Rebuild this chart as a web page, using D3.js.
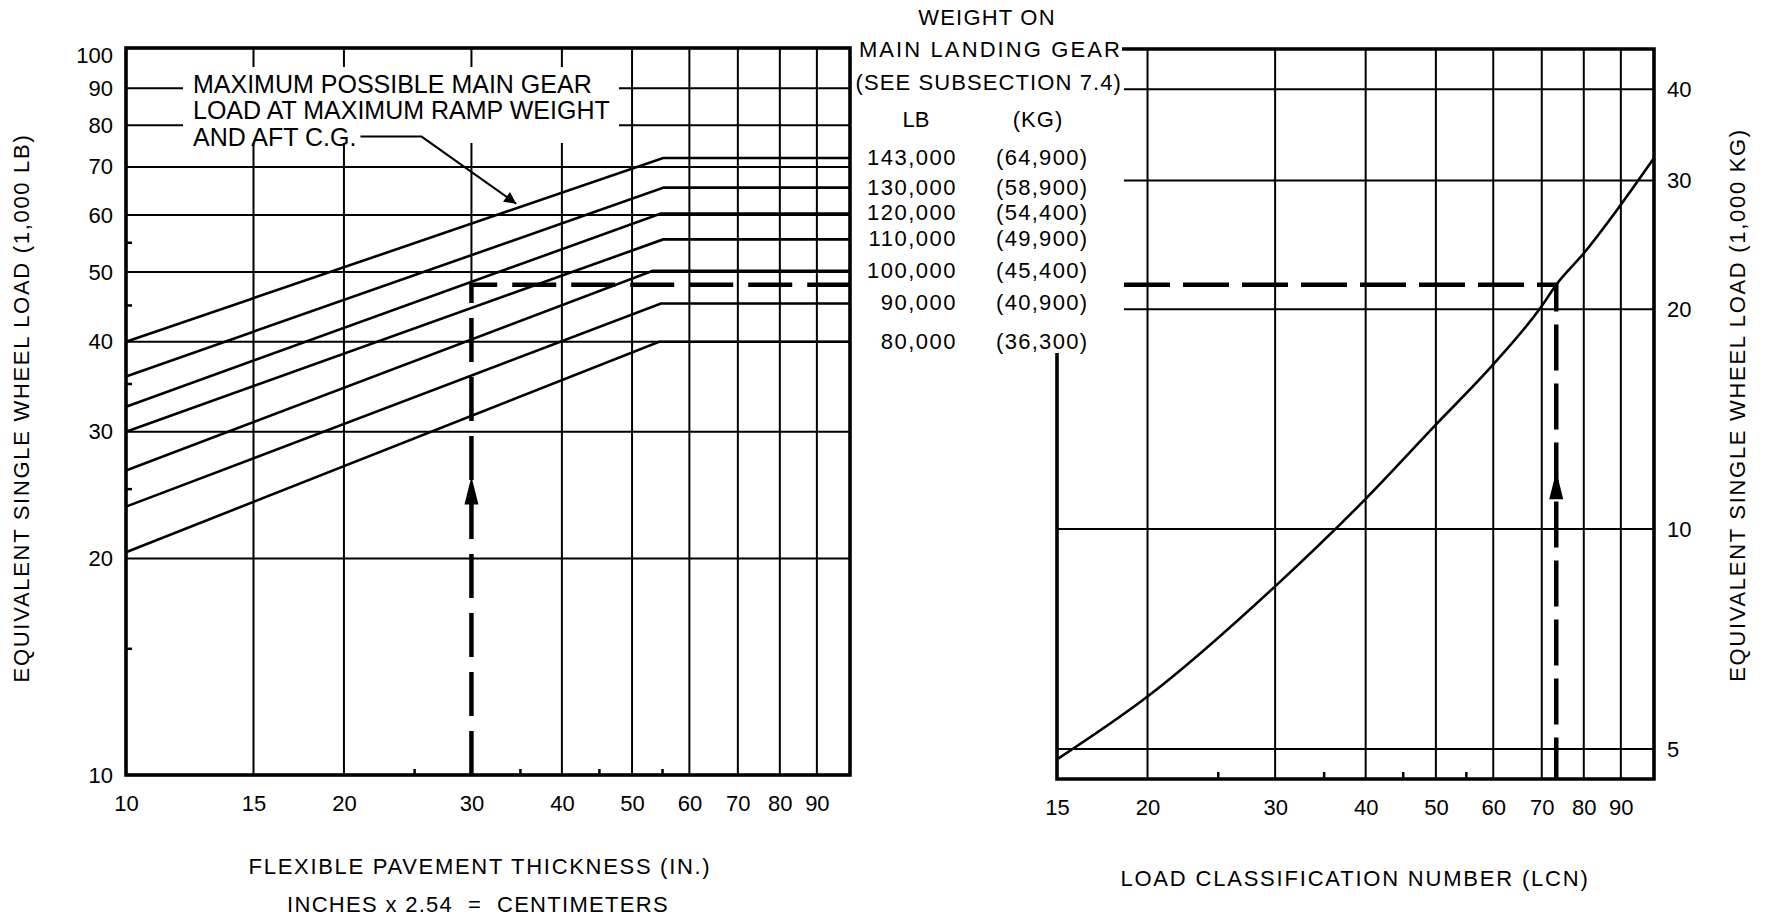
<!DOCTYPE html>
<html>
<head>
<meta charset="utf-8">
<script src="https://cdn.jsdelivr.net/npm/d3@7/dist/d3.min.js"></script>
<style>
  body { margin: 0; background: #fff; }
  svg text { fill: #000; }
</style>
</head>
<body>
<svg id="chart" width="1766" height="919"></svg>
<script>
// ---- data ----
var thicknessGrid = [15, 20, 30, 40, 50, 60, 70, 80, 90];
var thicknessLabels = [10, 15, 20, 30, 40, 50, 60, 70, 80, 90];
var thicknessMinor = [25, 35, 45, 55];
var loadLbGrid = [20, 30, 40, 50, 60, 70, 80, 90];
var loadLbLabels = [10, 20, 30, 40, 50, 60, 70, 80, 90, 100];
var loadLbMinor = [15, 25, 35, 45, 55];

var gearLb = ["143,000", "130,000", "120,000", "110,000", "100,000", "90,000", "80,000"];
var gearKg = ["(64,900)", "(58,900)", "(54,400)", "(49,900)", "(45,400)", "(40,900)", "(36,300)"];
var loadAt10 = [40, 35.8, 32.5, 30, 26.5, 23.6, 20.4];
var kneeThickness = [55.2, 55.3, 54.8, 55.2, 53.4, 54.8, 54.5];
var loadFlat = [72, 65.5, 60.3, 55.5, 50.2, 45.2, 40];

var lcnGrid = [20, 30, 40, 50, 60, 70, 80, 90];
var lcnLabels = [15, 20, 30, 40, 50, 60, 70, 80, 90];
var lcnMinor = [25, 35, 45, 55];
var loadKgGrid = [5, 10, 20, 30, 40];
var curveLcn = [15, 20, 30, 40, 50, 60, 70, 73.3, 80, 90, 100];
var curveLoadKg = [4.84, 5.9, 8.35, 11.0, 13.9, 16.8, 20.2, 21.6, 23.85, 27.8, 32.2];

// worked example (dashed path)
var exThickness = 30, exLoadLb = 48, exLoadKg = 21.6, exLcn = 73.3;
var exArrowLb = 26, exArrowKg = 12;
// note arrow: elbow and tip in chart units
var noteElbowThk = 25.6, noteTip = [34.6, 62.2];

var FONT = '"Liberation Sans", Arial, Helvetica, sans-serif';

var svg = d3.select("#chart");

var xL = d3.scaleLog().domain([10, 100]).range([126, 850]),
    yL = d3.scaleLog().domain([10, 102.4]).range([775, 48]);
var xR = d3.scaleLog().domain([15, 100]).range([1057, 1654]),
    yR = d3.scaleLog().domain([4.55, 45.4]).range([779, 49]);

var lTop = yL.domain()[1], rBot = yR.domain()[0], rTop = yR.domain()[1];
var legendRight = 1124, legendBottom = 353;

var defs = svg.append("defs");
defs.append("marker")
    .attr("id", "tip")
    .attr("viewBox", "0 0 10 10")
    .attr("refX", 10).attr("refY", 5)
    .attr("markerWidth", 7).attr("markerHeight", 6)
    .attr("markerUnits", "strokeWidth")
    .attr("orient", "auto")
    .append("path").attr("d", "M0,0 L10,5 L0,10 z").attr("fill", "#000");

// ================= LEFT CHART =================
var gl = svg.append("g");

gl.selectAll(".hgrid")
    .data(loadLbGrid)
    .enter()
    .append("line")
    .attr("x1", xL(10)).attr("x2", xL(100))
    .attr("y1", function (d) { return yL(d); })
    .attr("y2", function (d) { return yL(d); })
    .attr("stroke", "#000").attr("stroke-width", 2);

gl.selectAll(".vgrid")
    .data(thicknessGrid)
    .enter()
    .append("line")
    .attr("x1", function (d) { return xL(d); })
    .attr("x2", function (d) { return xL(d); })
    .attr("y1", function (d) { return d === exThickness ? yL(exLoadLb) : yL(10); })
    .attr("y2", yL(lTop))
    .attr("stroke", "#000").attr("stroke-width", 2);

// white box behind the note text
gl.append("rect")
    .attr("x", 183).attr("y", 67).attr("width", 436).attr("height", 76)
    .attr("fill", "#fff");

var note = ["MAXIMUM POSSIBLE MAIN GEAR", "LOAD AT MAXIMUM RAMP WEIGHT", "AND AFT C.G."];
var noteText = gl.selectAll(".note")
    .data(note)
    .enter()
    .append("text")
    .attr("x", 193)
    .attr("y", function (d, i) { return 84 + i * 26.3; })
    .attr("dy", "0.36em")
    .attr("font-family", FONT)
    .attr("font-size", 25)
    .text(function (d) { return d; });

var lastNote = noteText.filter(function (d, i) { return i === 2; });
var noteEnd = 193 + lastNote.node().getComputedTextLength() + 4;
var noteY = 84 + 2 * 26.3;
gl.append("path")
    .attr("d", "M" + noteEnd + "," + noteY +
        "L" + xL(noteElbowThk) + "," + noteY +
        "L" + xL(noteTip[0]) + "," + yL(noteTip[1]))
    .attr("fill", "none").attr("stroke", "#000").attr("stroke-width", 2)
    .attr("marker-end", "url(#tip)");

// weight lines
var lineL = d3.line()
    .x(function (d) { return xL(d[0]); })
    .y(function (d) { return yL(d[1]); });

var weightLines = gearLb.map(function (lb, i) {
    return [[10, loadAt10[i]], [kneeThickness[i], loadFlat[i]], [100, loadFlat[i]]];
});

gl.selectAll(".wline")
    .data(weightLines)
    .enter()
    .append("path")
    .attr("d", lineL)
    .attr("fill", "none")
    .attr("stroke", "#000").attr("stroke-width", 2.6);

// example dashed path
gl.append("path")
    .attr("d", lineL([[exThickness, 10], [exThickness, exLoadLb], [100, exLoadLb]]))
    .attr("fill", "none").attr("stroke", "#000").attr("stroke-width", 4.5)
    .attr("stroke-dasharray", "44,15");

gl.append("path")
    .attr("transform", "translate(" + xL(exThickness) + "," + yL(exArrowLb) + ")")
    .attr("d", "M0,0 L7,28 L-7,28 Z")
    .attr("fill", "#000");

// frame
gl.append("rect")
    .attr("x", xL(10)).attr("y", yL(lTop))
    .attr("width", xL(100) - xL(10)).attr("height", yL(10) - yL(lTop))
    .attr("fill", "none").attr("stroke", "#000").attr("stroke-width", 3.6);

// axes
gl.append("g")
    .attr("transform", "translate(" + xL(10) + ",0)")
    .call(d3.axisLeft(yL).tickValues(loadLbLabels).tickSize(0).tickPadding(13).tickFormat(d3.format("d")))
    .attr("font-size", 22).attr("font-family", FONT)
    .call(function (g) { g.select(".domain").remove(); });

gl.append("g")
    .attr("transform", "translate(" + xL(10) + ",0)")
    .call(d3.axisLeft(yL).tickValues(loadLbMinor).tickSize(-6).tickFormat(""))
    .call(function (g) { g.select(".domain").remove(); })
    .selectAll("line").attr("stroke-width", 2.5);

gl.append("g")
    .attr("transform", "translate(0," + yL(10) + ")")
    .call(d3.axisBottom(xL).tickValues(thicknessLabels).tickSize(0).tickPadding(20).tickFormat(d3.format("d")))
    .attr("font-size", 22).attr("font-family", FONT)
    .call(function (g) { g.select(".domain").remove(); });

gl.append("g")
    .attr("transform", "translate(0," + yL(10) + ")")
    .call(d3.axisBottom(xL).tickValues(thicknessMinor).tickSize(-6).tickFormat(""))
    .call(function (g) { g.select(".domain").remove(); })
    .selectAll("line").attr("stroke-width", 2.5);

// axis titles
gl.append("text")
    .attr("transform", "translate(21,408) rotate(-90)")
    .attr("text-anchor", "middle").attr("dy", "0.36em")
    .attr("font-family", FONT).attr("font-size", 22).attr("letter-spacing", 1.7)
    .text("EQUIVALENT SINGLE WHEEL LOAD (1,000 LB)");

gl.append("text")
    .attr("x", 480).attr("y", 866).attr("dy", "0.36em")
    .attr("text-anchor", "middle")
    .attr("font-family", FONT).attr("font-size", 22).attr("letter-spacing", 1.7)
    .text("FLEXIBLE PAVEMENT THICKNESS (IN.)");

gl.append("text")
    .attr("x", 478).attr("y", 904).attr("dy", "0.36em")
    .attr("text-anchor", "middle")
    .attr("font-family", FONT).attr("font-size", 22).attr("letter-spacing", 1.3)
    .text("INCHES x 2.54 \u00a0=\u00a0 CENTIMETERS");

// ================= LEGEND =================
var lg = svg.append("g")
    .attr("font-family", FONT).attr("font-size", 22);

lg.append("text").attr("x", 987).attr("y", 17.5).attr("dy", "0.36em")
    .attr("text-anchor", "middle").attr("letter-spacing", 1.2)
    .text("WEIGHT ON");
lg.append("text").attr("x", legendRight - 2).attr("y", 49).attr("dy", "0.36em")
    .attr("text-anchor", "end").attr("letter-spacing", 2.1)
    .text("MAIN LANDING GEAR");
lg.append("text").attr("x", legendRight - 2).attr("y", 82).attr("dy", "0.36em")
    .attr("text-anchor", "end").attr("letter-spacing", 1.1)
    .text("(SEE SUBSECTION 7.4)");
lg.append("text").attr("x", 916).attr("y", 119).attr("dy", "0.36em")
    .attr("text-anchor", "middle").text("LB");
lg.append("text").attr("x", 1038).attr("y", 119).attr("dy", "0.36em")
    .attr("text-anchor", "middle").attr("letter-spacing", 1).text("(KG)");

lg.selectAll(".lb")
    .data(gearLb)
    .enter()
    .append("text")
    .attr("x", 957)
    .attr("y", function (d, i) { return yL(loadFlat[i]) - 1; })
    .attr("dy", "0.36em")
    .attr("text-anchor", "end").attr("letter-spacing", 1.5)
    .text(function (d) { return d; });

lg.selectAll(".kg")
    .data(gearKg)
    .enter()
    .append("text")
    .attr("x", 996)
    .attr("y", function (d, i) { return yL(loadFlat[i]) - 1; })
    .attr("dy", "0.36em")
    .attr("letter-spacing", 1.3)
    .text(function (d) { return d; });

// ================= RIGHT CHART =================
var gr = svg.append("g");

gr.selectAll(".hgrid")
    .data(loadKgGrid)
    .enter()
    .append("line")
    .attr("x1", function (d) { return yR(d) < legendBottom ? legendRight : xR(15); })
    .attr("x2", xR(100))
    .attr("y1", function (d) { return yR(d); })
    .attr("y2", function (d) { return yR(d); })
    .attr("stroke", "#000").attr("stroke-width", 2);

gr.selectAll(".vgrid")
    .data(lcnGrid)
    .enter()
    .append("line")
    .attr("x1", function (d) { return xR(d); })
    .attr("x2", function (d) { return xR(d); })
    .attr("y1", yR(rBot)).attr("y2", yR(rTop))
    .attr("stroke", "#000").attr("stroke-width", 2);

var lineR = d3.line()
    .x(function (d) { return xR(d[0]); })
    .y(function (d) { return yR(d[1]); })
    .curve(d3.curveMonotoneX);

gr.append("path")
    .datum(curveLcn.map(function (c, i) { return [c, curveLoadKg[i]]; }))
    .attr("d", lineR)
    .attr("fill", "none").attr("stroke", "#000").attr("stroke-width", 2.6);

gr.append("path")
    .attr("d", "M" + legendRight + "," + yR(exLoadKg) +
        "L" + xR(exLcn) + "," + yR(exLoadKg) +
        "L" + xR(exLcn) + "," + yR(rBot))
    .attr("fill", "none").attr("stroke", "#000").attr("stroke-width", 4.5)
    .attr("stroke-dasharray", "46,13");

gr.append("path")
    .attr("transform", "translate(" + xR(exLcn) + "," + yR(exArrowKg) + ")")
    .attr("d", "M0,0 L7,28 L-7,28 Z")
    .attr("fill", "#000");

// frame (open at the legend corner)
gr.append("path")
    .attr("d", "M" + (legendRight - 2) + "," + yR(rTop) +
        "H" + xR(100) + "V" + yR(rBot) + "H" + xR(15) + "V" + legendBottom)
    .attr("fill", "none").attr("stroke", "#000").attr("stroke-width", 3.6);

gr.append("g")
    .attr("transform", "translate(" + xR(100) + ",0)")
    .call(d3.axisRight(yR).tickValues(loadKgGrid).tickSize(0).tickPadding(13).tickFormat(d3.format("d")))
    .attr("font-size", 22).attr("font-family", FONT)
    .call(function (g) { g.select(".domain").remove(); });

gr.append("g")
    .attr("transform", "translate(0," + yR(rBot) + ")")
    .call(d3.axisBottom(xR).tickValues(lcnLabels).tickSize(0).tickPadding(20).tickFormat(d3.format("d")))
    .attr("font-size", 22).attr("font-family", FONT)
    .call(function (g) { g.select(".domain").remove(); });

gr.append("g")
    .attr("transform", "translate(0," + yR(rBot) + ")")
    .call(d3.axisBottom(xR).tickValues(lcnMinor).tickSize(-7).tickFormat(""))
    .call(function (g) { g.select(".domain").remove(); })
    .selectAll("line").attr("stroke-width", 2.5);

gr.append("text")
    .attr("transform", "translate(1737,405) rotate(-90)")
    .attr("text-anchor", "middle").attr("dy", "0.36em")
    .attr("font-family", FONT).attr("font-size", 22).attr("letter-spacing", 1.7)
    .text("EQUIVALENT SINGLE WHEEL LOAD (1,000 KG)");

gr.append("text")
    .attr("x", 1355).attr("y", 878).attr("dy", "0.36em")
    .attr("text-anchor", "middle")
    .attr("font-family", FONT).attr("font-size", 22).attr("letter-spacing", 1.8)
    .text("LOAD CLASSIFICATION NUMBER (LCN)");
</script>
</body>
</html>
